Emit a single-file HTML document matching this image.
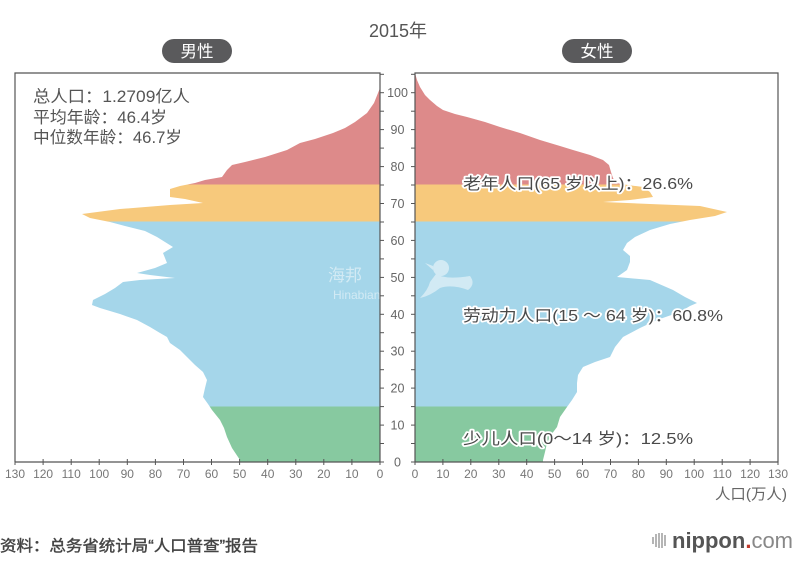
<!DOCTYPE html>
<html>
<head>
<meta charset="utf-8">
<style>
  html,body{margin:0;padding:0;background:#ffffff;}
  svg{display:block;}
  .cjk{font-family:"Liberation Sans","Noto Sans CJK SC",sans-serif;}
</style>
</head>
<body>
<svg width="803" height="563" viewBox="0 0 803 563" xmlns="http://www.w3.org/2000/svg" class="cjk">
  <defs>
    <path id="male" d="M380,88 L378,93 L374,103 L367,113 L355,122 L345,128 L333,133 L315,139 L300,143 L287,150 L265,157 L245,162 L232,165 L227,170 L222,177 L205,180 L195,183 L180,186 L170,189 L170,197 L185,199 L203,203 L170,205 L120,209 L82,214 L90,218 L110,222 L125,226 L145,231 L157,237 L165,242 L173,247 L163,253 L165,258 L167,263 L155,268 L137,273 L150,275 L175,278 L140,280 L123,282 L115,288 L105,294 L93,300 L92,305 L100,308 L120,314 L137,320 L150,327 L160,333 L167,337 L170,343 L180,350 L187,357 L195,365 L203,372 L207,380 L205,388 L203,397 L208,404 L212,410 L220,420 L224,428 L227,437 L232,448 L240,460 L240,462 L380,462 Z"/>
    <path id="female" d="M415,73 L417,80 L420,87 L425,95 L430,100 L437,106 L443,110 L455,114 L467,117 L485,122 L500,127 L520,133 L540,140 L560,146 L573,150 L590,155 L603,160 L609,165 L611,172 L613,178 L616,183 L628,185 L643,187 L650,192 L653,197 L630,200 L603,202 L650,204 L700,206 L727,212 L715,216 L690,220 L670,224 L650,230 L635,237 L627,243 L623,250 L630,256 L630,262 L627,270 L617,277 L650,280 L673,290 L685,297 L697,303 L690,306 L680,312 L657,320 L640,328 L623,337 L615,347 L610,357 L595,362 L583,367 L578,375 L577,383 L577,392 L572,400 L567,407 L560,417 L557,427 L551,435 L547,443 L545,452 L543,460 L543,462 L415,462 Z"/>
    <clipPath id="cRed"><rect x="0" y="0" width="803" height="184.5"/></clipPath>
    <clipPath id="cYel"><rect x="0" y="184.5" width="803" height="37"/></clipPath>
    <clipPath id="cBlu"><rect x="0" y="221.5" width="803" height="185"/></clipPath>
    <clipPath id="cGrn"><rect x="0" y="406.5" width="803" height="60"/></clipPath>
  </defs>

  <!-- Title -->
  <text x="398" y="37" font-size="18" fill="#555" text-anchor="middle">2015年</text>

  <!-- Pills -->
  <rect x="162" y="39" width="70" height="24" rx="12" fill="#5a5a5c"/>
  <text x="197" y="57" font-size="16.5" fill="#fff" text-anchor="middle">男性</text>
  <rect x="562" y="39" width="70" height="24" rx="12" fill="#5a5a5c"/>
  <text x="597" y="57" font-size="16.5" fill="#fff" text-anchor="middle">女性</text>

  <!-- Male shapes -->
  <use href="#male" fill="#dd8a8a" clip-path="url(#cRed)"/>
  <use href="#male" fill="#f7c97c" clip-path="url(#cYel)"/>
  <use href="#male" fill="#a5d6ea" clip-path="url(#cBlu)"/>
  <use href="#male" fill="#87c9a0" clip-path="url(#cGrn)"/>
  <!-- Female shapes -->
  <use href="#female" fill="#dd8a8a" clip-path="url(#cRed)"/>
  <use href="#female" fill="#f7c97c" clip-path="url(#cYel)"/>
  <use href="#female" fill="#a5d6ea" clip-path="url(#cBlu)"/>
  <use href="#female" fill="#87c9a0" clip-path="url(#cGrn)"/>

  <!-- Watermark -->
  <g fill="#ffffff" opacity="0.5">
    <text x="328" y="281" font-size="17">海邦</text>
    <text x="333" y="299" font-size="12">Hinabian</text>
    <circle cx="441" cy="268" r="8"/>
    <path d="M433,266 L425,263 L433,270 Z"/>
    <path d="M436,274 Q445,280 470,276 Q476,284 468,290 Q452,284 440,288 Q430,296 420,298 Q428,290 430,282 Z"/>
  </g>

  <!-- Panel frames -->
  <g stroke="#555" stroke-width="1.2" fill="none">
    <path d="M15,462 L15,73 L380,73 L380,462 L15,462"/>
    <path d="M415,462 L415,73 L778,73 L778,462 L415,462"/>
  </g>

  <!-- Age ticks -->
  <g stroke="#555" stroke-width="1">
    <line x1="380" y1="462" x2="384" y2="462"/><line x1="411" y1="462" x2="415" y2="462"/>
    <line x1="380" y1="443.5" x2="384" y2="443.5"/><line x1="411" y1="443.5" x2="415" y2="443.5"/>
    <line x1="380" y1="425.1" x2="384" y2="425.1"/><line x1="411" y1="425.1" x2="415" y2="425.1"/>
    <line x1="380" y1="406.6" x2="384" y2="406.6"/><line x1="411" y1="406.6" x2="415" y2="406.6"/>
    <line x1="380" y1="388.1" x2="384" y2="388.1"/><line x1="411" y1="388.1" x2="415" y2="388.1"/>
    <line x1="380" y1="369.7" x2="384" y2="369.7"/><line x1="411" y1="369.7" x2="415" y2="369.7"/>
    <line x1="380" y1="351.2" x2="384" y2="351.2"/><line x1="411" y1="351.2" x2="415" y2="351.2"/>
    <line x1="380" y1="332.7" x2="384" y2="332.7"/><line x1="411" y1="332.7" x2="415" y2="332.7"/>
    <line x1="380" y1="314.3" x2="384" y2="314.3"/><line x1="411" y1="314.3" x2="415" y2="314.3"/>
    <line x1="380" y1="295.8" x2="384" y2="295.8"/><line x1="411" y1="295.8" x2="415" y2="295.8"/>
    <line x1="380" y1="277.4" x2="384" y2="277.4"/><line x1="411" y1="277.4" x2="415" y2="277.4"/>
    <line x1="380" y1="258.9" x2="384" y2="258.9"/><line x1="411" y1="258.9" x2="415" y2="258.9"/>
    <line x1="380" y1="240.4" x2="384" y2="240.4"/><line x1="411" y1="240.4" x2="415" y2="240.4"/>
    <line x1="380" y1="222.0" x2="384" y2="222.0"/><line x1="411" y1="222.0" x2="415" y2="222.0"/>
    <line x1="380" y1="203.5" x2="384" y2="203.5"/><line x1="411" y1="203.5" x2="415" y2="203.5"/>
    <line x1="380" y1="185.0" x2="384" y2="185.0"/><line x1="411" y1="185.0" x2="415" y2="185.0"/>
    <line x1="380" y1="166.6" x2="384" y2="166.6"/><line x1="411" y1="166.6" x2="415" y2="166.6"/>
    <line x1="380" y1="148.1" x2="384" y2="148.1"/><line x1="411" y1="148.1" x2="415" y2="148.1"/>
    <line x1="380" y1="129.6" x2="384" y2="129.6"/><line x1="411" y1="129.6" x2="415" y2="129.6"/>
    <line x1="380" y1="111.2" x2="384" y2="111.2"/><line x1="411" y1="111.2" x2="415" y2="111.2"/>
    <line x1="380" y1="92.7" x2="384" y2="92.7"/><line x1="411" y1="92.7" x2="415" y2="92.7"/>
    <line x1="380" y1="74.3" x2="384" y2="74.3"/><line x1="411" y1="74.3" x2="415" y2="74.3"/>
  </g>
  <g font-size="12.5" fill="#666" text-anchor="middle">
    <text x="397.5" y="466.5">0</text>
    <text x="397.5" y="429.6">10</text>
    <text x="397.5" y="392.6">20</text>
    <text x="397.5" y="355.7">30</text>
    <text x="397.5" y="318.8">40</text>
    <text x="397.5" y="281.9">50</text>
    <text x="397.5" y="244.9">60</text>
    <text x="397.5" y="208.0">70</text>
    <text x="397.5" y="171.1">80</text>
    <text x="397.5" y="134.1">90</text>
    <text x="397.5" y="97.2">100</text>
  </g>

  <!-- X ticks -->
  <g stroke="#555" stroke-width="1">
    <line x1="15" y1="459" x2="15" y2="465"/><line x1="43.1" y1="459" x2="43.1" y2="465"/>
    <line x1="71.2" y1="459" x2="71.2" y2="465"/><line x1="99.2" y1="459" x2="99.2" y2="465"/>
    <line x1="127.3" y1="459" x2="127.3" y2="465"/><line x1="155.4" y1="459" x2="155.4" y2="465"/>
    <line x1="183.5" y1="459" x2="183.5" y2="465"/><line x1="211.5" y1="459" x2="211.5" y2="465"/>
    <line x1="239.6" y1="459" x2="239.6" y2="465"/><line x1="267.7" y1="459" x2="267.7" y2="465"/>
    <line x1="295.8" y1="459" x2="295.8" y2="465"/><line x1="323.8" y1="459" x2="323.8" y2="465"/>
    <line x1="351.9" y1="459" x2="351.9" y2="465"/><line x1="380" y1="459" x2="380" y2="465"/>
    <line x1="415" y1="459" x2="415" y2="465"/><line x1="442.9" y1="459" x2="442.9" y2="465"/>
    <line x1="470.8" y1="459" x2="470.8" y2="465"/><line x1="498.8" y1="459" x2="498.8" y2="465"/>
    <line x1="526.7" y1="459" x2="526.7" y2="465"/><line x1="554.6" y1="459" x2="554.6" y2="465"/>
    <line x1="582.5" y1="459" x2="582.5" y2="465"/><line x1="610.5" y1="459" x2="610.5" y2="465"/>
    <line x1="638.4" y1="459" x2="638.4" y2="465"/><line x1="666.3" y1="459" x2="666.3" y2="465"/>
    <line x1="694.2" y1="459" x2="694.2" y2="465"/><line x1="722.2" y1="459" x2="722.2" y2="465"/>
    <line x1="750.1" y1="459" x2="750.1" y2="465"/><line x1="778" y1="459" x2="778" y2="465"/>
  </g>
  <g font-size="12" fill="#777" text-anchor="middle">
    <text x="15" y="478">130</text><text x="43.1" y="478">120</text><text x="71.2" y="478">110</text>
    <text x="99.2" y="478">100</text><text x="127.3" y="478">90</text><text x="155.4" y="478">80</text>
    <text x="183.5" y="478">70</text><text x="211.5" y="478">60</text><text x="239.6" y="478">50</text>
    <text x="267.7" y="478">40</text><text x="295.8" y="478">30</text><text x="323.8" y="478">20</text>
    <text x="351.9" y="478">10</text><text x="380" y="478">0</text>
    <text x="415" y="478">0</text><text x="442.9" y="478">10</text><text x="470.8" y="478">20</text>
    <text x="498.8" y="478">30</text><text x="526.7" y="478">40</text><text x="554.6" y="478">50</text>
    <text x="582.5" y="478">60</text><text x="610.5" y="478">70</text><text x="638.4" y="478">80</text>
    <text x="666.3" y="478">90</text><text x="694.2" y="478">100</text><text x="722.2" y="478">110</text>
    <text x="750.1" y="478">120</text><text x="778" y="478">130</text>
  </g>
  <text x="787" y="499" font-size="15" fill="#666" text-anchor="end" textLength="72" lengthAdjust="spacingAndGlyphs">人口(万人)</text>

  <!-- Info text -->
  <g font-size="16.5" fill="#555">
    <text x="33" y="102" textLength="157" lengthAdjust="spacingAndGlyphs">总人口：1.2709亿人</text>
    <text x="33" y="123" textLength="134" lengthAdjust="spacingAndGlyphs">平均年龄：46.4岁</text>
    <text x="33" y="143" textLength="149" lengthAdjust="spacingAndGlyphs">中位数年龄：46.7岁</text>
  </g>

  <!-- Band labels -->
  <g font-size="16" fill="#4a4a4a" stroke="#ffffff" stroke-width="3.5" stroke-linejoin="round" paint-order="stroke">
    <text x="463" y="189" textLength="230" lengthAdjust="spacingAndGlyphs">老年人口(65 岁以上)：26.6%</text>
    <text x="463" y="321" textLength="260" lengthAdjust="spacingAndGlyphs">劳动力人口(15 ～ 64 岁)：60.8%</text>
    <text x="463" y="444" textLength="230" lengthAdjust="spacingAndGlyphs">少儿人口(0～14 岁)：12.5%</text>
  </g>

  <!-- Source -->
  <text x="0" y="551" font-size="15.5" fill="#444" stroke="#444" stroke-width="0.4" textLength="258" lengthAdjust="spacingAndGlyphs">资料：总务省统计局“人口普查”报告</text>

  <!-- nippon.com logo -->
  <g fill="#b5b5b5">
    <rect x="652" y="537" width="2" height="7"/>
    <rect x="655" y="534" width="2" height="13"/>
    <rect x="658" y="533" width="2" height="15"/>
    <rect x="661" y="533" width="2" height="15"/>
    <rect x="664" y="535" width="2" height="11"/>
  </g>
  <text x="672" y="548" font-size="22" font-family="Liberation Sans, sans-serif"><tspan font-weight="bold" fill="#555">nippon</tspan><tspan font-weight="bold" fill="#c0392b">.</tspan><tspan fill="#888">com</tspan></text>
</svg>
</body>
</html>
